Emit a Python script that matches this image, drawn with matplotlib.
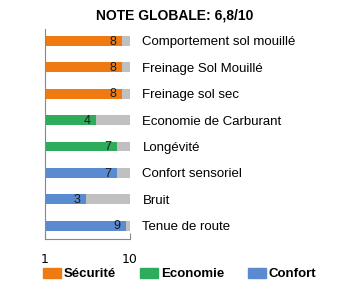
import numpy as np
import matplotlib.pyplot as plt
from matplotlib.patches import Patch

plt.rcParams['font.family'] = ['Liberation Sans', 'DejaVu Sans']

criteres = ["Comportement sol mouillé", "Freinage Sol Mouillé", "Freinage sol sec",
            "Economie de Carburant", "Longévité", "Confort sensoriel", "Bruit", "Tenue de route"]
notes = [8, 8, 8, 4, 7, 7, 3, 9]
groupes = ["Sécurité", "Sécurité", "Sécurité", "Economie", "Economie", "Confort", "Confort", "Confort"]
note_max = 10
titre = "NOTE GLOBALE: 6,8/10"

couleurs = {"Sécurité": "#f07a12", "Economie": "#2eac5c", "Confort": "#5a8bd0"}

fig = plt.figure(figsize=(3.5, 3.02), dpi=100)
ax = fig.add_axes([45 / 350, 1 - 239 / 302, 85 / 350, 210 / 302])

y = np.arange(len(criteres))
h = 0.37
ax.barh(y, [note_max - 1] * len(y), left=1, height=h, color="#c0c0c0")
ax.barh(y, np.array(notes) - 1, left=1, height=h, color=[couleurs[g] for g in groupes])

for yi, n in zip(y, notes):
    ax.annotate(str(n), (n, yi), xytext=(-4, -0.5), textcoords="offset points",
                ha="right", va="center", fontsize=9, color="#1a1a1a")

ax.set_xscale("log")
ax.set_xlim(1, 10)
ax.set_ylim(len(y) - 0.5, -0.45)
ax.set_xticks([1, 10])
ax.set_xticklabels(["1", "10"], fontsize=9, family=["DejaVu Sans"])
ax.xaxis.set_minor_locator(plt.NullLocator())
ax.tick_params(axis="x", length=4, direction="in", color="#888888", pad=10)

ax.yaxis.tick_right()
ax.set_yticks(y)
ax.set_yticklabels(criteres, fontsize=9.5)
ax.tick_params(axis="y", length=0, pad=9)

for s in ["top", "right"]:
    ax.spines[s].set_visible(False)
ax.spines["left"].set_color("#888888")
ax.spines["bottom"].set_color("#888888")

fig.text(0.5, 1 - 15 / 302, titre, ha="center", va="center", fontsize=10, fontweight="bold")

handles = [Patch(color=couleurs[g]) for g in ["Sécurité", "Economie", "Confort"]]
fig.legend(handles, ["Sécurité", "Economie", "Confort"], loc="center left",
           bbox_to_anchor=(36 / 350, 1 - 274 / 302), ncol=3, frameon=False,
           prop={"weight": "bold", "size": 9.5}, handlelength=1.4, handleheight=0.8,
           handletextpad=0.2, columnspacing=1.8, borderpad=0)

fig.savefig("out.png", dpi=100)
